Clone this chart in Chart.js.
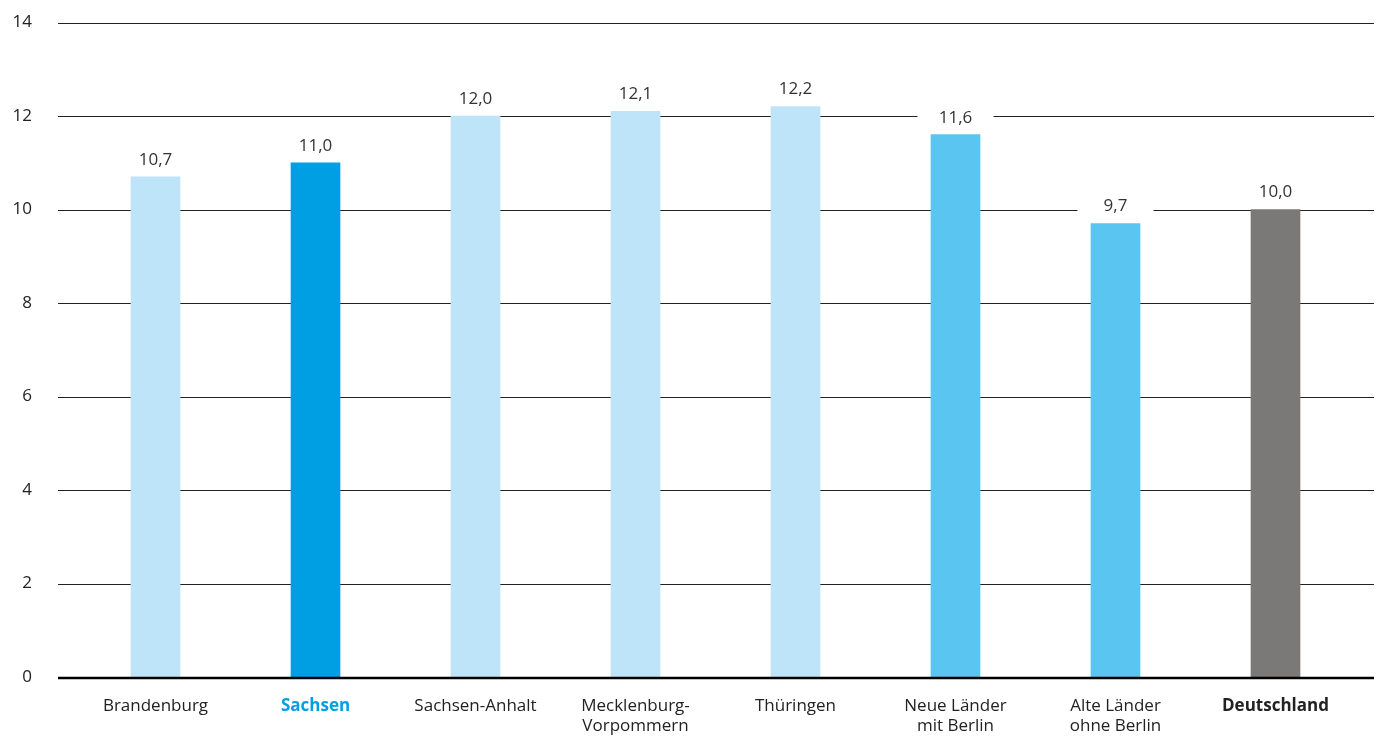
<!DOCTYPE html>
<html lang="de">
<head>
<meta charset="utf-8">
<title>Ländervergleich</title>
<script src="https://cdn.jsdelivr.net/npm/chart.js@4/dist/chart.umd.min.js"></script>
<style>
  html, body { margin: 0; padding: 0; background: #fff; }
  #wrap { width: 1378px; height: 736px; }
</style>
</head>
<body>
<div id="wrap"><canvas id="chart" width="1378" height="736"></canvas></div>
<script>
const labels = [
  "Brandenburg",
  "Sachsen",
  "Sachsen-Anhalt",
  ["Mecklenburg-", "Vorpommern"],
  "Thüringen",
  ["Neue Länder", "mit Berlin"],
  ["Alte Länder", "ohne Berlin"],
  "Deutschland"
];
const values = [10.7, 11.0, 12.0, 12.1, 12.2, 11.6, 9.7, 10.0];
const barColors = ["#bee4f9", "#009fe3", "#bee4f9", "#bee4f9", "#bee4f9", "#5bc5f2", "#5bc5f2", "#7a7978"];
const yTicks = [0, 2, 4, 6, 8, 10, 12, 14];

const FONT = "'Open Sans', 'DejaVu Sans', sans-serif";
const GRID_LEFT = 58;
const GRID_RIGHT = 1374;

function fmt(v) {
  return v.toFixed(1).replace(".", ",");
}

// horizontal rules run wider than the plot area, value labels sit on white boxes
const rulesAndLabels = {
  id: "rulesAndLabels",
  beforeDatasetsDraw(chart) {
    const ctx = chart.ctx;
    const y = chart.scales.y;
    ctx.save();
    ctx.strokeStyle = "#222";
    ctx.lineWidth = 1;
    yTicks.forEach(t => {
      if (t === 0) return;
      const py = Math.round(y.getPixelForValue(t)) + 0.5;
      ctx.beginPath();
      ctx.moveTo(GRID_LEFT, py);
      ctx.lineTo(GRID_RIGHT, py);
      ctx.stroke();
    });
    ctx.restore();
  },
  afterDatasetsDraw(chart) {
    const ctx = chart.ctx;
    const y = chart.scales.y;
    ctx.save();
    // zero line
    const y0 = y.getPixelForValue(0) + 1;
    ctx.strokeStyle = "#000";
    ctx.lineWidth = 2.5;
    ctx.beginPath();
    ctx.moveTo(GRID_LEFT, y0);
    ctx.lineTo(GRID_RIGHT, y0);
    ctx.stroke();

    // value labels
    ctx.font = "17px " + FONT;
    ctx.textAlign = "center";
    ctx.textBaseline = "middle";
    chart.getDatasetMeta(0).data.forEach((bar, i) => {
      const cy = bar.y - 17;
      ctx.fillStyle = "#fff";
      ctx.fillRect(bar.x - 38, cy - 11, 76, 22);
      ctx.fillStyle = "#333";
      ctx.fillText(fmt(values[i]), bar.x, cy);
    });
    ctx.restore();
  }
};

new Chart(document.getElementById("chart"), {
  type: "bar",
  data: {
    labels: labels,
    datasets: [{
      data: values,
      backgroundColor: barColors,
      borderWidth: 0,
      barThickness: 49
    }]
  },
  options: {
    responsive: false,
    animation: false,
    layout: { padding: { left: 0, right: 22.5, top: 22.5, bottom: 0 } },
    plugins: {
      legend: { display: false },
      tooltip: { enabled: false }
    },
    scales: {
      x: {
        grid: { display: false, drawTicks: false },
        border: { display: false },
        afterFit(s) { s.height = 59; },
        ticks: {
          padding: 19,
          maxRotation: 0,
          autoSkip: false,
          color: ctx => ctx.index === 1 ? "#009fe3" : "#222",
          font: ctx => ({
            family: FONT,
            size: 17,
            weight: (ctx.index === 1 || ctx.index === 7) ? "bold" : "normal"
          })
        }
      },
      y: {
        min: 0,
        max: 14,
        grid: { display: false, drawTicks: false },
        border: { display: false },
        afterFit(s) {
          s.width = 75.5;
          // tick padding is horizontal only here, keep it out of the top/bottom overhang
          s.paddingTop = 10;
          s.paddingBottom = 10;
        },
        afterBuildTicks(s) { s.ticks = yTicks.map(v => ({ value: v })); },
        ticks: {
          padding: 43.5,
          color: "#222",
          font: { family: FONT, size: 17 },
          callback: v => String(v)
        }
      }
    }
  },
  plugins: [rulesAndLabels]
});
</script>
</body>
</html>
